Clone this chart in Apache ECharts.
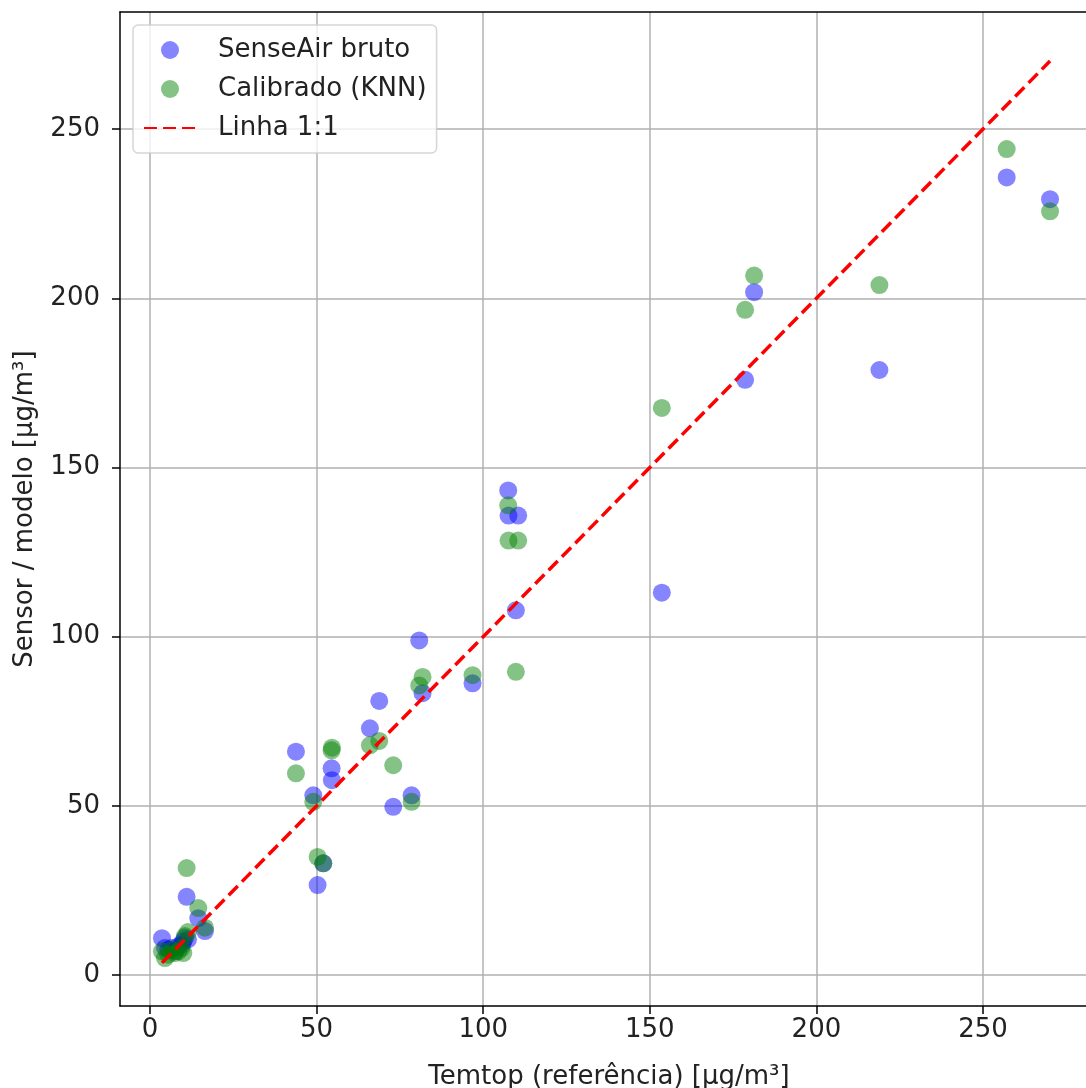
<!DOCTYPE html>
<html>
<head>
<meta charset="utf-8">
<script src="https://cdn.jsdelivr.net/npm/echarts@6/dist/echarts.min.js"></script>
<style>
  html, body { margin: 0; padding: 0; background: #fff; }
  #chart { width: 1086px; height: 1088px; }
</style>
</head>
<body>
<div id="chart"></div>
<script>
// Reference instrument (Temtop) readings, µg/m³
const refValues = [
  3.6, 4.5, 5.5, 6.5, 7.5, 8.5, 9.5, 10.0, 10.5, 11.0, 11.4, 14.5, 16.5,
  43.8, 49.0, 50.3, 52.0, 54.5, 54.6, 66.0, 68.8, 73.0, 78.5, 80.8, 81.8, 96.8,
  107.5, 107.6, 110.5, 109.8, 153.6, 178.6, 181.3, 218.9, 257.1, 270.1
];
// Raw SenseAir readings at the same instants
const senseAirRaw = [
  10.9, 8.0, 7.5, 8.0, 7.0, 8.5, 9.0, 10.0, 11.0, 23.1, 10.5, 16.8, 13.0,
  66.0, 53.1, 26.6, 33.0, 61.1, 57.6, 72.9, 81.0, 49.7, 53.1, 98.9, 83.3, 86.2,
  143.2, 135.8, 135.8, 107.8, 113.0, 175.9, 201.8, 178.8, 235.7, 229.3
];
// KNN-calibrated values
const knnCalibrated = [
  7.0, 5.0, 6.0, 7.5, 6.5, 7.0, 8.0, 6.5, 11.5, 31.6, 12.7, 19.8, 14.0,
  59.6, 51.2, 34.9, 33.0, 66.4, 67.2, 67.9, 69.2, 62.0, 51.2, 85.6, 88.1, 88.6,
  138.8, 128.4, 128.4, 89.6, 167.6, 196.6, 206.7, 203.9, 244.1, 225.7
];
const tickValues = [0, 50, 100, 150, 200, 250];
const seriesNames = ['SenseAir bruto', 'Calibrado (KNN)', 'Linha 1:1'];

const pairs = (xs, ys) => xs.map((x, i) => [x, ys[i]]);
const lo = Math.min(...refValues);
const hi = Math.max(...refValues);

const FONT = 'DejaVu Sans';
const FS = 26;
const TXT = '#222';
const X_MIN = -9.0, X_MAX = 284.5;

const chart = echarts.init(document.getElementById('chart'), null, { renderer: 'canvas' });

const spine = { show: true, onZero: false, lineStyle: { color: '#000', width: 1.5 } };
const axisCommon = {
  type: 'value',
  nameLocation: 'middle',
  nameTextStyle: { fontFamily: FONT, fontSize: FS, color: TXT },
  axisLine: spine,
  axisTick: { show: true, length: 8, customValues: tickValues, lineStyle: { color: '#000', width: 1.5 } },
  axisLabel: { fontFamily: FONT, fontSize: FS, color: TXT, customValues: tickValues },
  splitLine: { show: true, lineStyle: { color: '#b0b0b0', width: 1.5 } }
};

chart.setOption({
  animation: false,
  backgroundColor: '#fff',
  grid: {
    left: 120, top: 12, right: -12, bottom: 82,
    outerBoundsMode: 'none',
    containLabel: false,
    show: false
  },
  xAxis: [
    Object.assign({}, axisCommon, {
      min: X_MIN, max: X_MAX,
      name: 'Temtop (referência) [µg/m³]',
      nameGap: 58,
      axisLabel: Object.assign({}, axisCommon.axisLabel, { margin: 11 })
    }),
    {
      // top spine only
      type: 'value', position: 'top', min: X_MIN, max: X_MAX,
      axisLine: spine, axisTick: { show: false }, axisLabel: { show: false },
      splitLine: { show: false }
    }
  ],
  yAxis: Object.assign({}, axisCommon, {
    min: -9.15, max: 284.6,
    name: 'Sensor / modelo [µg/m³]',
    nameGap: 82,
    axisLabel: Object.assign({}, axisCommon.axisLabel, { margin: 20 })
  }),
  legend: {
    orient: 'vertical',
    left: 133, top: 25,
    padding: [12, 10, 12, 10],
    itemGap: 13,
    itemWidth: 52,
    itemHeight: 18,
    backgroundColor: 'rgba(255,255,255,0.8)',
    borderColor: 'rgba(204,204,204,0.8)',
    borderWidth: 1.5,
    borderRadius: 5,
    textStyle: { fontFamily: FONT, fontSize: FS, color: TXT, padding: [0, 0, 0, 17] },
    data: seriesNames
  },
  series: [
    {
      name: seriesNames[0],
      type: 'scatter',
      symbol: 'circle',
      symbolSize: 18,
      itemStyle: { color: 'rgba(0,0,255,0.6)' },
      data: pairs(refValues, senseAirRaw)
    },
    {
      name: seriesNames[1],
      type: 'scatter',
      symbol: 'circle',
      symbolSize: 18,
      itemStyle: { color: 'rgba(0,128,0,0.6)' },
      data: pairs(refValues, knnCalibrated)
    },
    {
      name: seriesNames[2],
      type: 'line',
      symbol: 'none',
      showSymbol: false,
      lineStyle: { color: '#ff0000', width: 3.5, type: [13, 6] },
      itemStyle: { color: 'rgba(0,0,0,0)', borderWidth: 0 },
      data: [[lo, lo], [hi, hi]]
    }
  ]
});
</script>
</body>
</html>
